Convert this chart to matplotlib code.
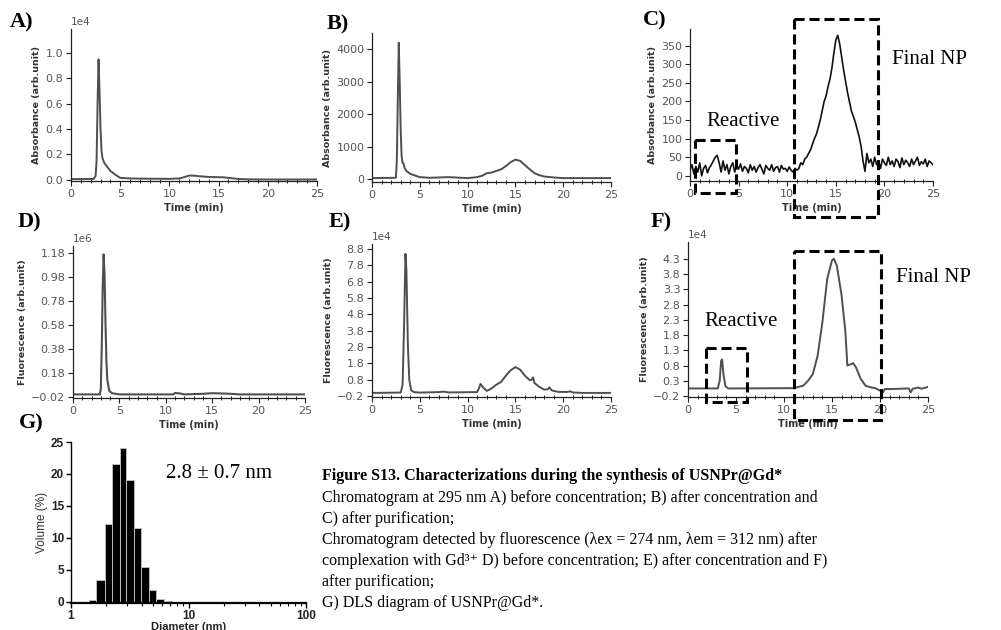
import numpy as np
import matplotlib
matplotlib.use('Agg')
import matplotlib.pyplot as plt
from matplotlib.patches import Rectangle
from matplotlib.ticker import MultipleLocator, FixedLocator, LogLocator, NullFormatter

plt.rcParams['axes.unicode_minus'] = True

# ---------------- data ----------------
# A) absorbance before concentration
tA = [0, 2.3, 2.5, 2.6, 2.7, 2.8, 2.9, 3.0, 3.1, 3.2, 3.4, 3.7, 4.0, 4.5, 5.0, 6, 8, 10, 11, 11.5,
      12, 12.5, 13, 14, 15, 15.5, 16, 17, 18, 20, 25]
yA = [50, 60, 300, 1500, 6000, 9500, 7000, 4000, 2300, 1700, 1300, 1000, 700, 400, 150, 100, 80, 70, 100, 200,
      330, 320, 280, 220, 200, 190, 150, 60, 30, 20, 20]

# B) absorbance after concentration
tB = [0, 2.5, 2.6, 2.7, 2.8, 2.9, 3.0, 3.1, 3.2, 3.3, 3.4, 3.6, 4.0, 4.5, 5.0, 6, 8, 10, 11, 11.5,
      12, 12.5, 13, 13.5, 14, 14.5, 15, 15.5, 16, 16.5, 17, 17.5, 18, 19, 20, 25]
yB = [30, 40, 600, 2500, 4200, 3000, 1500, 700, 500, 480, 350, 250, 160, 110, 60, 40, 60, 30, 60, 100,
      180, 200, 250, 300, 400, 520, 600, 560, 430, 300, 180, 120, 80, 50, 30, 30]

# C) absorbance after purification (sampled every 0.2 min from 0 to 25)
yC = [15, 30, 5, 25, 10, 35, 0, 20, 28, 8, 22,
      30, 40, 50, 55, 35, 10, 40, 15,
      30, 5, 25, 35, 10, 28, 18, 32, 12, 25, 20, 8, 30, 15, 25, 10, 22, 30, 18, 5,
      28, 20, 15, 30, 12, 22, 25, 10, 28, 18, 20, 12, 24, 15, 10, 20,
      15, 20, 35, 30, 45, 50, 60, 70, 85, 100, 112, 130, 150, 175, 200, 215, 240, 260,
      290, 330, 365, 378, 355, 320, 285, 255, 225, 200, 175, 160, 145, 125, 105, 80, 40, 12,
      60, 35, 45, 25, 50, 30, 40, 20, 45, 35, 28, 50, 30, 40, 25, 45, 38, 22, 48, 30,
      42, 35, 25, 45, 30, 40, 50, 28, 38, 32, 45, 25, 40, 35, 30]
tC = np.linspace(0, 25, len(yC))

# D) fluorescence before concentration
tD = [0, 2.9, 3.0, 3.1, 3.2, 3.3, 3.4, 3.5, 3.6, 3.7, 3.9, 4.2, 5, 10, 10.8, 11, 11.5, 12, 14, 15, 16, 17, 18, 25]
yD = [0.0, 0.0, 50000, 400000, 900000, 1170000, 1000000, 600000, 280000, 120000, 30000, 10000, 0, 0, 0,
      12000, 8000, 0, 5000, 10000, 8000, 5000, 0, 0]

# E) fluorescence after concentration
tE = [0, 3.0, 3.2, 3.35, 3.5, 3.6, 3.75, 3.9, 4.1, 4.4, 5, 7, 7.5, 8, 11, 11.2, 11.35, 11.6, 12, 12.5,
      13, 13.5, 14, 14.5, 15, 15.5, 16, 16.5, 16.7, 16.85, 17, 17.5, 18, 18.4, 18.55, 18.8, 19.5, 20.5,
      20.7, 21, 22, 25]
yE = [0, 200, 5000, 40000, 85000, 75000, 30000, 8000, 1500, 500, 200, 500, 800, 300, 500, 3000, 5500,
      3500, 1200, 2700, 5000, 6700, 10500, 13800, 15800, 14200, 10500, 7800, 8000, 9500, 6000, 3700,
      2000, 2200, 3500, 1500, 600, 600, 1000, 300, 0, 0]

# F) fluorescence after purification
tF = [0, 3.1, 3.3, 3.45, 3.55, 3.7, 3.9, 4.2, 11, 12, 12.5, 13, 13.5, 14, 14.5, 15, 15.2, 15.5, 16,
      16.4, 16.6, 17, 17.2, 17.5, 18, 18.5, 19, 19.5, 20, 20.3, 20.5, 21, 23, 23.2, 23.4, 24, 24.3, 25]
yF = [500, 500, 3000, 9500, 10000, 5000, 1200, 500, 600, 1400, 3000, 5200, 11200, 22200, 36400, 42500,
      43000, 40800, 31000, 18900, 8000, 8500, 8800, 7400, 3600, 1400, 900, 600, -200, -800, 300, 300,
      500, -800, 400, 800, 400, 1000]

# G) DLS volume distribution
edgesG = [1.42, 1.64, 1.93, 2.23, 2.60, 2.96, 3.42, 3.98, 4.60, 5.32, 6.19, 7.2]
volG = [0.3, 3.4, 12.1, 21.6, 24.0, 19.0, 11.5, 5.4, 1.9, 0.45, 0.1]

W, H = 1001, 630
fig = plt.figure(figsize=(W / 100, H / 100), dpi=100)


def px_axes(left, right, top, bottom):
    return fig.add_axes([left / W, 1 - bottom / H, (right - left) / W, (bottom - top) / H])


LINE = '#4f4f4f'
TICKC = '#555555'


def style_chrom(ax, ylabel, sci):
    for s in ['top', 'right']:
        ax.spines[s].set_visible(False)
    for s in ['left', 'bottom']:
        ax.spines[s].set_linewidth(0.9)
        ax.spines[s].set_color('#222222')
    ax.set_xlim(0, 25)
    ax.xaxis.set_major_locator(MultipleLocator(5))
    ax.xaxis.set_minor_locator(MultipleLocator(1))
    ax.tick_params(axis='both', which='major', labelsize=8, labelcolor=TICKC, length=3.5, width=0.8,
                   color='#222222', pad=2)
    ax.tick_params(axis='x', which='minor', direction='inout', length=3, width=0.7, color='#222222')
    ax.set_xlabel('Time (min)', fontsize=7, fontweight='bold', color='#333333', labelpad=3)
    ax.set_ylabel(ylabel, fontsize=6.8, fontweight='bold', color='#333333', labelpad=3)
    if sci:
        ax.ticklabel_format(axis='y', style='sci', scilimits=(0, 0))
        ax.yaxis.get_offset_text().set_fontsize(7.5)
        ax.yaxis.get_offset_text().set_color(TICKC)
    ax.patch.set_alpha(0)


# A
axA = px_axes(71, 317, 29, 181)
axA.plot(tA, yA, color=LINE, lw=1.4)
axA.set_ylim(-100, 11900)
axA.yaxis.set_major_locator(MultipleLocator(2000))
style_chrom(axA, 'Absorbance (arb.unit)', True)

# B
axB = px_axes(372, 611, 33, 182)
axB.plot(tB, yB, color=LINE, lw=1.4)
axB.set_ylim(-90, 4500)
axB.yaxis.set_major_locator(MultipleLocator(1000))
style_chrom(axB, 'Absorbance (arb.unit)', False)

# C
axC = px_axes(690, 933, 29, 181)
axC.plot(tC, yC, color='#111111', lw=1.2)
axC.set_ylim(-14, 395)
axC.yaxis.set_major_locator(MultipleLocator(50))
style_chrom(axC, 'Absorbance (arb.unit)', False)

# D
axD = px_axes(73, 305, 246, 398)
axD.plot(tD, yD, color=LINE, lw=1.5)
axD.set_ylim(-30000, 1240000)
axD.yaxis.set_major_locator(FixedLocator([-20000, 180000, 380000, 580000, 780000, 980000, 1180000]))
style_chrom(axD, 'Fluorescence (arb.unit)', True)

# E
axE = px_axes(372, 611, 244, 397)
axE.plot(tE, yE, color=LINE, lw=1.4)
axE.set_ylim(-2500, 91000)
axE.yaxis.set_major_locator(FixedLocator([-2000 + 10000 * i for i in range(10)]))
style_chrom(axE, 'Fluorescence (arb.unit)', True)

# F
axF = px_axes(688, 928, 242, 397)
axF.plot(tF, yF, color=LINE, lw=1.4)
axF.set_ylim(-2300, 48500)
axF.yaxis.set_major_locator(FixedLocator([-2000 + 5000 * i for i in range(10)]))
style_chrom(axF, 'Fluorescence (arb.unit)', True)

# G
axG = px_axes(71, 306, 442, 603)
axG.bar(edgesG[:-1], volG, width=np.diff(edgesG), align='edge', color='black', edgecolor='#bbbbbb',
        linewidth=0.7)
axG.set_xscale('log')
axG.set_xlim(1, 100)
axG.set_ylim(-0.2, 25)
for s in ['top', 'right']:
    axG.spines[s].set_visible(False)
axG.spines['left'].set_linewidth(1.0)
axG.spines['bottom'].set_linewidth(1.6)
axG.yaxis.set_major_locator(MultipleLocator(5))
axG.xaxis.set_major_locator(FixedLocator([1, 10, 100]))
axG.xaxis.set_major_formatter(plt.FuncFormatter(lambda v, p: f'{int(v)}'))
axG.xaxis.set_minor_locator(LogLocator(base=10, subs=np.arange(2, 10), numticks=20))
axG.xaxis.set_minor_formatter(NullFormatter())
axG.tick_params(axis='both', which='major', length=3.5, width=1.0, labelsize=8.5, pad=1.5)
axG.tick_params(axis='x', which='minor', length=2.5, width=0.8)
for lab in axG.get_xticklabels() + axG.get_yticklabels():
    lab.set_fontfamily('Liberation Sans')
    lab.set_fontweight('bold')
    lab.set_color('#222222')
axG.set_ylabel('Volume (%)', fontsize=8.5, fontfamily='Liberation Sans', color='#333333', labelpad=2)
axG.set_xlabel('Diameter (nm)', fontsize=8, fontfamily='Liberation Sans', fontweight='bold',
               color='#222222', labelpad=0)
axG.patch.set_alpha(0)

# ---------------- overlay: labels, boxes, caption ----------------
ov = fig.add_axes([0, 0, 1, 1], zorder=10)
ov.set_xlim(0, W)
ov.set_ylim(H, 0)
ov.axis('off')
ov.patch.set_alpha(0)

serif = 'Liberation Serif'
for lab, (x, y) in zip(['A)', 'B)', 'C)', 'D)', 'E)', 'F)', 'G)'],
                       [(22, 22), (338, 24), (655, 20), (29, 222), (340, 222), (661, 222), (31, 423)]):
    ov.text(x, y, lab, fontsize=16, fontweight='bold', family=serif, ha='center', va='center')

dash = (0, (3.3, 1.6))
for (x0, x1, y0, y1) in [(695, 736, 140, 193), (794, 878, 19, 217),
                         (706, 747, 348, 402), (794, 881, 251, 420)]:
    ov.add_patch(Rectangle((x0, y0), x1 - x0, y1 - y0, fill=False, edgecolor='black', lw=2.2, linestyle=dash))

ov.text(743, 121, 'Reactive', fontsize=15, family=serif, ha='center', va='center')
ov.text(930, 60, 'Final NP', fontsize=15, family=serif, ha='center', va='center')
ov.text(741, 321, 'Reactive', fontsize=15, family=serif, ha='center', va='center')
ov.text(934, 278, 'Final NP', fontsize=15, family=serif, ha='center', va='center')
ov.text(219, 473, '2.8 ± 0.7 nm', fontsize=15, family=serif, ha='center', va='center')

cap_family = ['Liberation Serif', 'DejaVu Serif']
cap_lines = [
    'Chromatogram at 295 nm A) before concentration; B) after concentration and',
    'C) after purification;',
    'Chromatogram detected by fluorescence (λex = 274 nm, λem = 312 nm) after',
    'complexation with Gd³⁺ D) before concentration; E) after concentration and F)',
    'after purification;',
    'G) DLS diagram of USNPr@Gd*.',
]
ov.text(322, 476, 'Figure S13. Characterizations during the synthesis of USNPr@Gd*', fontsize=11.5,
        fontweight='bold', family=cap_family, ha='left', va='center')
for i, line in enumerate(cap_lines):
    ov.text(322, 498 + 21 * i, line, fontsize=11.5, family=cap_family, ha='left', va='center')

fig.savefig('out.png', dpi=100)
